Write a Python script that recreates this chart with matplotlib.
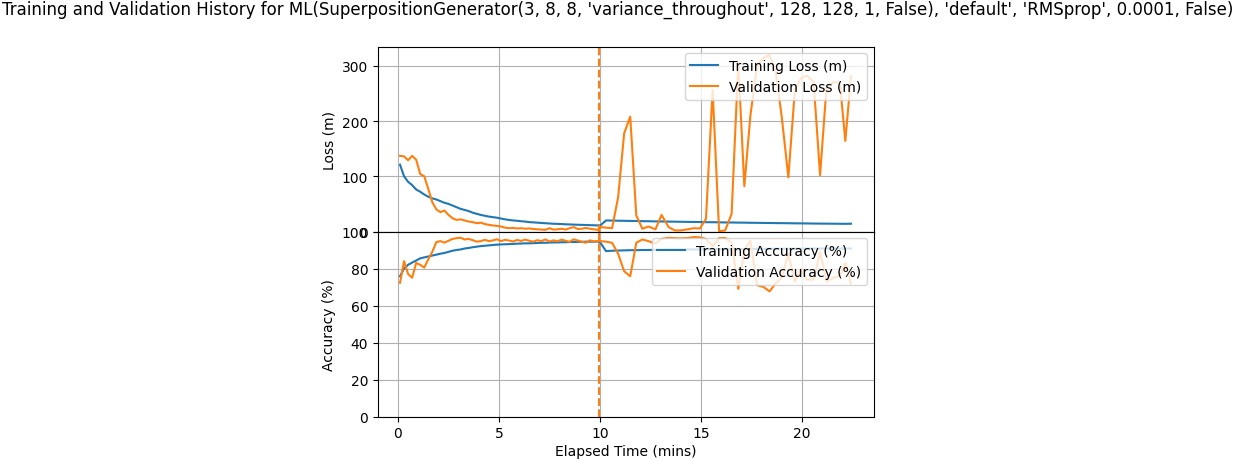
import matplotlib
matplotlib.use("Agg")
import matplotlib.pyplot as plt

# elapsed time (mins), first stretch (before the restart marker)
time_a = [0.1, 0.3, 0.5, 0.7, 0.9, 1.1, 1.3, 1.5, 1.7, 1.9,
          2.1, 2.3, 2.5, 2.7, 2.9, 3.1, 3.3, 3.5, 3.7, 3.9,
          4.1, 4.3, 4.5, 4.7, 4.9, 5.1, 5.3, 5.5, 5.7, 5.9,
          6.1, 6.3, 6.5, 6.7, 6.9, 7.1, 7.3, 7.5, 7.7, 7.9,
          8.1, 8.3, 8.5, 8.7, 8.9, 9.1, 9.3, 9.5, 9.7, 9.9]
# second stretch
time_b = [10.05, 10.3, 10.6, 10.9, 11.2, 11.5, 11.8, 12.1, 12.4, 12.75,
          13.05, 13.4, 13.7, 14.0, 14.35, 14.65, 14.95, 15.25, 15.58, 15.9,
          16.2, 16.52, 16.85, 17.15, 17.45, 17.78, 18.1, 18.4, 18.7, 19.0,
          19.33, 19.65, 19.95, 20.25, 20.58, 20.9, 21.22, 21.55, 21.88, 22.15,
          22.43]

train_loss_a = [121, 100, 90, 84, 76, 72, 67, 63, 60, 58,
                55, 52, 50, 47, 44, 41, 39, 37, 34, 32,
                30, 28.5, 27, 26, 25, 23.5, 22, 21, 20, 19.5,
                18.5, 18, 17, 16.5, 16, 15.5, 15, 14.5, 14, 13.8,
                13.5, 13, 12.8, 12.5, 12.2, 12, 11.8, 11.5, 11.3, 11]
train_loss_b = [12, 20, 19.8, 19.5, 19.4, 19.1, 19, 18.7, 18.6, 18.3,
                18.2, 17.9, 17.8, 17.6, 17.4, 17.3, 17.1, 16.9, 16.8, 16.6,
                16.4, 16.3, 16.1, 16, 15.8, 15.7, 15.5, 15.4, 15.2, 15.1,
                15, 14.8, 14.7, 14.6, 14.4, 14.3, 14.2, 14.1, 14, 13.9,
                14.1]
val_loss_a = [137, 136, 129, 137, 130, 104, 100, 77, 53, 40,
              35, 38, 30, 24, 21, 22, 20, 18, 17, 15,
              16, 13.5, 12, 11, 10, 9, 7, 6, 6.5, 5.5,
              6, 5, 5.5, 4.5, 4, 3.5, 3, 6, 3.5, 4,
              5, 3.5, 6, 8, 4.5, 5, 6.5, 5, 4, 3]
val_loss_b = [8, 7, 6, 62, 178, 208, 29, 5, 9, 4,
              30, 8, 2, 2, 4, 6, 5.5, 23, 256, 0.5,
              2, 32, 305, 82, 210, 300, 315, 319, 290, 208,
              98, 256, 278, 282, 271, 102, 262, 270, 270, 164,
              281]

train_acc_a = [75.8, 80, 82, 83.2, 84.3, 85.5, 86, 86.5, 87, 87.5,
               88, 88.4, 89, 89.6, 90, 90.3, 90.8, 91.1, 91.5, 91.8,
               92.1, 92.3, 92.5, 92.7, 92.9, 93, 93.1, 93.2, 93.3, 93.4,
               93.5, 93.6, 93.6, 93.7, 93.8, 93.9, 93.9, 94, 94.1, 94.1,
               94.2, 94.2, 94.3, 94.3, 94.4, 94.4, 94.5, 94.5, 94.5, 94.6]
train_acc_b = [93.5, 89.4, 89.6, 89.7, 89.8, 89.9, 89.9, 90, 90, 90.1,
               90.1, 90.2, 90.2, 90.2, 90.3, 90.3, 90.3, 90.4, 90.4, 90.4,
               90.5, 90.5, 90.5, 90.5, 90.6, 90.6, 90.6, 90.6, 90.7, 90.7,
               90.7, 90.7, 90.7, 90.8, 90.8, 90.8, 90.8, 90.8, 90.8, 90.8,
               90.8]
val_acc_a = [72.3, 84, 77, 75, 83, 82, 80.5, 85, 89, 94.3,
             94.8, 94, 95, 96, 96.4, 96.6, 95.7, 96, 95.3, 94.5,
             94.8, 95.5, 94.8, 95.2, 95.8, 94.8, 95.5, 95.1, 94.6, 95.4,
             94.9, 95.6, 95, 94.5, 95.3, 94.8, 95.7, 94.6, 95.2, 94.7,
             95.6, 95, 94.4, 95.8, 95.1, 94.5, 93.9, 95.2, 94.7, 94.8]
val_acc_b = [94.8, 94.5, 93.9, 88, 78.5, 75.8, 93.9, 95.7, 94.8, 93.5,
             96, 96.6, 96.4, 96.3, 96.5, 97, 96.8, 96, 92, 96.4,
             96.5, 94, 69, 90, 95, 71, 70, 67.6, 72, 75,
             88, 73, 80, 74, 74, 89, 73, 75, 76, 83,
             72]

restart_time = 9.93

W, H = 1236, 460
fig = plt.figure(figsize=(W / 100, H / 100), dpi=100)
left, width = 378 / W, 496 / W
ax_loss = fig.add_axes([left, (H - 232.5) / H, width, 185 / H])
ax_acc = fig.add_axes([left, (H - 417.5) / H, width, 185 / H], sharex=ax_loss)

ax_loss.plot(time_a + time_b, train_loss_a + train_loss_b, color="C0", label="Training Loss (m)")
ax_loss.plot(time_a + time_b, val_loss_a + val_loss_b, color="C1", label="Validation Loss (m)")
ax_loss.axvline(restart_time, color="C1", linestyle="--")
ax_loss.set_ylim(0, 335)
ax_loss.set_ylabel("Loss (m)")
ax_loss.grid(True)
ax_loss.legend(loc="upper right")
ax_loss.tick_params(labelbottom=False)

ax_acc.plot(time_a + time_b, train_acc_a + train_acc_b, color="C0", label="Training Accuracy (%)")
ax_acc.plot(time_a + time_b, val_acc_a + val_acc_b, color="C1", label="Validation Accuracy (%)")
ax_acc.axvline(restart_time, color="C1", linestyle="--")
ax_acc.set_ylim(0, 100)
ax_acc.set_ylabel("Accuracy (%)")
ax_acc.set_xlabel("Elapsed Time (mins)", labelpad=2.5)
ax_acc.grid(True)
ax_acc.legend(loc="upper right")
ax_acc.set_xlim(-0.99, 23.57)

fig.text(0.5, 1 - 1 / H, "Training and Validation History for ML(SuperpositionGenerator(3, 8, 8, "
         "'variance_throughout', 128, 128, 1, False), 'default', 'RMSprop', 0.0001, False)",
         ha="center", va="top", fontsize=12)

fig.savefig("out.png", dpi=100)
